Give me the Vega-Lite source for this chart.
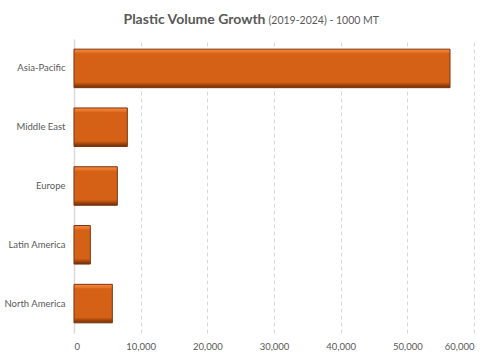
{
  "$schema": "https://vega.github.io/schema/vega-lite/v6.json",
  "width": 400,
  "height": 294,
  "autosize": {"type": "none"},
  "padding": {"left": 74, "top": 39, "right": 25, "bottom": 25},
  "background": "#ffffff",
  "data": {
    "values": [
      {"region": "Asia-Pacific", "volume": 56400},
      {"region": "Middle East", "volume": 8000},
      {"region": "Europe", "volume": 6500},
      {"region": "Latin America", "volume": 2450},
      {"region": "North America", "volume": 5750}
    ]
  },
  "mark": {
    "type": "bar",
    "color": {
      "gradient": "linear",
      "x1": 0, "y1": 0, "x2": 0, "y2": 1,
      "stops": [
        {"offset": 0, "color": "#F58A3C"},
        {"offset": 0.08, "color": "#E8742A"},
        {"offset": 0.12, "color": "#D46116"},
        {"offset": 0.86, "color": "#D46116"},
        {"offset": 0.92, "color": "#A9490F"},
        {"offset": 1, "color": "#6B2E0A"}
      ]
    },
    "stroke": "#7A3410",
    "strokeWidth": 1
  },
  "encoding": {
    "y": {
      "field": "region",
      "type": "nominal",
      "sort": null,
      "scale": {"paddingInner": 0.345, "paddingOuter": 0.1725},
      "axis": {
        "title": "Plastic Volume Growth",
        "titleFont": "Lato",
        "titleFontSize": 14,
        "titleFontWeight": "bold",
        "titleColor": "#595959",
        "titleAngle": 0,
        "titleAlign": "left",
        "titleAnchor": null,
        "titleBaseline": "alphabetic",
        "titleX": 49,
        "titleY": -16,
        "ticks": false,
        "domain": true,
        "domainColor": "#d9d9d9",
        "domainWidth": 1.5,
        "labelFont": "Lato",
        "labelFontSize": 9.5,
        "labelColor": "#595959",
        "labelPadding": 9
      }
    },
    "x": {
      "field": "volume",
      "type": "quantitative",
      "scale": {"domain": [0, 60000], "nice": false},
      "axis": {
        "title": "(2019-2024) - 1000 MT",
        "titleFont": "Lato",
        "titleFontSize": 10.5,
        "titleFontWeight": "normal",
        "titleColor": "#595959",
        "titleAlign": "left",
        "titleAnchor": null,
        "titleBaseline": "alphabetic",
        "titleX": 194,
        "titleY": -310,
        "values": [0, 10000, 20000, 30000, 40000, 50000, 60000],
        "format": ",d",
        "ticks": false,
        "domain": false,
        "grid": true,
        "gridColor": "#d9d9d9",
        "gridDash": [4, 3],
        "gridWidth": 1,
        "labelFont": "Lato",
        "labelFontSize": 9.5,
        "labelColor": "#595959",
        "labelPadding": 8
      }
    }
  },
  "config": {
    "view": {"stroke": null}
  }
}
